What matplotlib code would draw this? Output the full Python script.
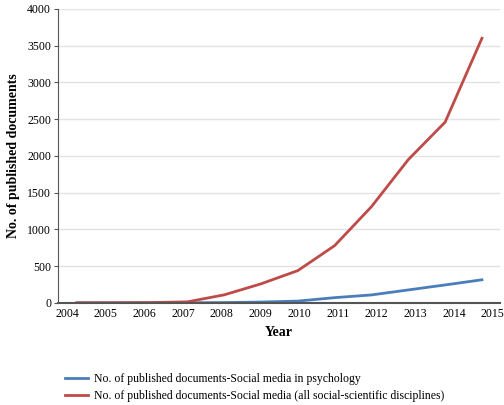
"""Social media publications per year: psychology vs. all social sciences."""

import matplotlib

matplotlib.use("Agg")
import matplotlib.pyplot as plt
import numpy as np

years = [2004, 2005, 2006, 2007, 2008, 2009, 2010, 2011, 2012, 2013, 2014, 2015]
psychology = [0, 0, 0, 2, 5, 12, 25, 72, 109, 177, 245, 315]
all_social = [2, 3, 5, 15, 110, 260, 440, 780, 1310, 1950, 2460, 3600]
y_ticks = [0, 500, 1000, 1500, 2000, 2500, 3000, 3500, 4000]

plt.rcParams["font.family"] = ["Liberation Serif", "DejaVu Serif"]

fig = plt.figure(figsize=(5.04, 4.05), dpi=100)
ax = fig.add_axes([0.115, 0.252, 0.877, 0.726])

idx = np.arange(len(years))
ax.plot(idx, psychology, color="#4a7ebb", lw=2,
        label="No. of published documents-Social media in psychology")
ax.plot(idx, all_social, color="#be4b48", lw=2,
        label="No. of published documents-Social media (all social-scientific disciplines)")

ax.set_xlim(-0.516, 11.49)
ax.set_ylim(0, 4000)
ax.set_yticks(y_ticks)
ax.tick_params(axis="y", labelsize=8.5, length=3, color="#555555", pad=2)
# labels sit on a slightly wider spacing than the data points
ax.set_xticks(-0.272 + 1.0516 * idx)
ax.set_xticklabels([str(y) for y in years])
ax.tick_params(axis="x", labelsize=8.5, length=0, pad=4)

ax.grid(axis="y", color="#e3e3e3", lw=1)
ax.set_axisbelow(True)
for side in ("top", "right"):
    ax.spines[side].set_visible(False)
ax.spines["left"].set_color("#555555")
ax.spines["bottom"].set_color("#555555")
ax.spines["bottom"].set_linewidth(1.5)

ax.set_xlabel("Year", fontsize=10, fontweight="bold", labelpad=4)
ax.set_ylabel("No. of published documents", fontsize=10, fontweight="bold", labelpad=5)

fig.legend(loc="lower left", bbox_to_anchor=(0.12, -0.005), frameon=False,
           fontsize=8.5, handlelength=1.9, handletextpad=0.5,
           labelspacing=0.45, borderaxespad=0.0)

fig.savefig("out.png", dpi=100)
plt.close(fig)
